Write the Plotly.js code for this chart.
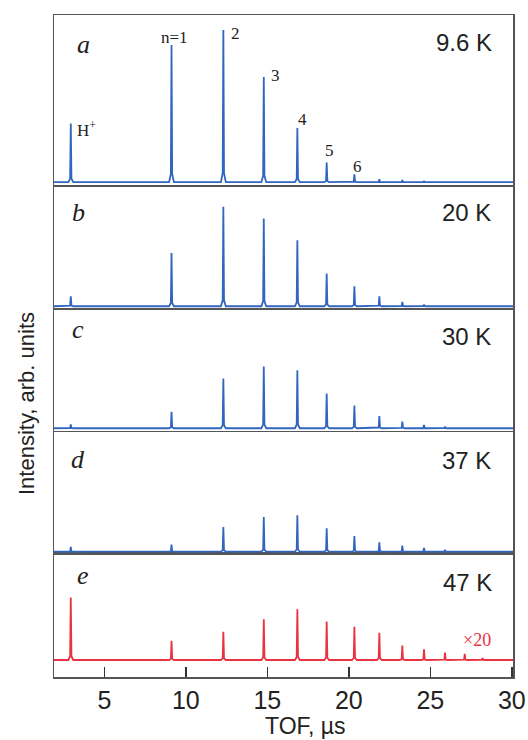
<!DOCTYPE html>
<html>
<head>
<meta charset="utf-8">
<script src="https://cdn.plot.ly/plotly-3.0.1.min.js"></script>
<style>html,body{margin:0;padding:0;background:#fff;}#chart{width:528px;height:740px;}</style>
</head>
<body>
<div id="chart"></div>
<script>
// Peak positions (TOF, µs) and intensities (arb. units)
const tof = [2.94, 9.12, 12.3, 14.78, 16.84, 18.64, 20.34, 21.87, 23.28, 24.61, 25.9, 27.11, 28.2];
const peakLabels = ['H<sup>+</sup>', 'n=1', '2', '3', '4', '5', '6'];
const intA = [58.7, 137, 152, 105, 54, 19.7, 7.7, 3, 2, 0.8, 0.5, 0, 0];
const intB = [10, 53.3, 99.3, 87.7, 66, 32.7, 20, 10, 4.3, 1.7, 0.6, 0, 0];
const intC = [4, 16.6, 50, 62.3, 58.3, 35, 23, 12.3, 6.6, 3.3, 1.6, 0.5, 0];
const intD = [4.7, 7, 24.7, 34.7, 36.3, 23.3, 15.7, 9.3, 6, 3.7, 2, 0.7, 0];
const intE = [62.3, 19.3, 28.3, 40.7, 50.7, 38.3, 33.3, 27.3, 14.3, 10.7, 7.3, 6, 2]; // ×20
const panelLetters = ['a', 'b', 'c', 'd', 'e'];
const temperatures = ['9.6 K', '20 K', '30 K', '37 K', '47 K'];
const xRange = [1.91, 30.07];
const xTicks = [5, 10, 15, 20, 25, 30];

const series = [intA, intB, intC, intD, intE];
const yRanges = [[-3, 167], [-2, 119], [-2.5, 119.5], [-1.5, 119.5], [-17, 106]];
const domains = [[0.743, 1], [0.557, 0.740], [0.372, 0.555], [0.187, 0.370], [0, 0.186]];
const colors = ['#3166bf', '#3166bf', '#3166bf', '#3166bf', '#ea3340'];

function spectrum(pos, hts) {
  const xs = [xRange[0]], ys = [0];
  pos.forEach((p, i) => {
    const h = hts[i];
    xs.push(p - 0.15, p - 0.04, p, p + 0.04, p + 0.15);
    ys.push(0, 0.06 * h, h, 0.06 * h, 0);
  });
  xs.push(xRange[1]); ys.push(0);
  return {x: xs, y: ys};
}

const fy = ypx => (677 - ypx) / 662;
const fx = xpx => (xpx - 54) / 459;

const data = [];
const layout = {
  width: 528, height: 740,
  margin: {l: 54, r: 15, t: 15, b: 63},
  paper_bgcolor: '#fff', plot_bgcolor: '#fff',
  showlegend: false,
  font: {family: 'Liberation Sans, Arial, sans-serif', color: '#222'},
  annotations: []
};

series.forEach((s, i) => {
  const n = 5 - i; // bottom panel uses axis 1
  const xa = n === 1 ? 'x' : 'x' + n;
  const ya = n === 1 ? 'y' : 'y' + n;
  const sp = spectrum(tof, s);
  data.push({x: sp.x, y: sp.y, xaxis: xa, yaxis: ya, type: 'scatter', mode: 'lines',
    line: {color: colors[i], width: 1.8}, hoverinfo: 'skip'});
  const isBottom = n === 1;
  layout[n === 1 ? 'xaxis' : 'xaxis' + n] = {
    range: xRange, anchor: ya, showgrid: false, zeroline: false,
    showline: true, mirror: true, linecolor: '#555', linewidth: 1.5,
    ticks: isBottom ? 'inside' : '', ticklen: 10, tickwidth: 1.5, tickcolor: '#333',
    tickvals: xTicks, showticklabels: isBottom,
    tickfont: {size: 25, color: '#222'}
  };
  layout[n === 1 ? 'yaxis' : 'yaxis' + n] = {
    range: yRanges[i], domain: domains[i], anchor: xa, showgrid: false, zeroline: false,
    showline: true, mirror: true, linecolor: '#555', linewidth: 1.5,
    ticks: '', showticklabels: false
  };
});

const letterPos = [[83, 44], [78, 212], [78, 329], [78, 459], [83, 575]];
const tempPos = [[494, 43], [493, 213], [493, 336], [493, 460], [494, 582]];
panelLetters.forEach((l, i) => {
  layout.annotations.push({text: l, xref: 'paper', yref: 'paper', x: fx(letterPos[i][0]), y: fy(letterPos[i][1]),
    showarrow: false, xanchor: 'center', yanchor: 'middle',
    font: {family: 'Liberation Serif, Times New Roman, serif', size: 26, color: '#222', style: 'italic'}});
  layout.annotations.push({text: temperatures[i], xref: 'paper', yref: 'paper', x: fx(tempPos[i][0]), y: fy(tempPos[i][1]),
    showarrow: false, xanchor: 'right', yanchor: 'middle',
    font: {family: 'Liberation Sans, Arial, sans-serif', size: 24, color: '#222'}});
});

const labelPos = [[86, 129], [174, 38], [235, 33], [275, 76], [302, 120], [329, 150], [357, 167]];
peakLabels.forEach((t, i) => {
  layout.annotations.push({text: t, xref: 'paper', yref: 'paper', x: fx(labelPos[i][0]), y: fy(labelPos[i][1]),
    showarrow: false, xanchor: 'center', yanchor: 'middle',
    font: {family: 'Liberation Serif, Times New Roman, serif', size: 17, color: '#222'}});
});

layout.annotations.push({text: '×20', xref: 'paper', yref: 'paper', x: fx(477), y: fy(640),
  showarrow: false, xanchor: 'center', yanchor: 'middle',
  font: {family: 'Liberation Serif, Times New Roman, serif', size: 18, color: '#ea3340'}});

layout.annotations.push({text: 'TOF, µs', xref: 'paper', yref: 'paper', x: fx(305), y: fy(726),
  showarrow: false, xanchor: 'center', yanchor: 'middle',
  font: {family: 'Liberation Sans, Arial, sans-serif', size: 23, color: '#222'}});
layout.annotations.push({text: 'Intensity, arb. units', xref: 'paper', yref: 'paper', x: fx(26), y: fy(404),
  showarrow: false, xanchor: 'center', yanchor: 'middle', textangle: -90,
  font: {family: 'Liberation Sans, Arial, sans-serif', size: 22, color: '#222'}});

Plotly.newPlot('chart', data, layout, {displayModeBar: false, staticPlot: true});
</script>
</body>
</html>
